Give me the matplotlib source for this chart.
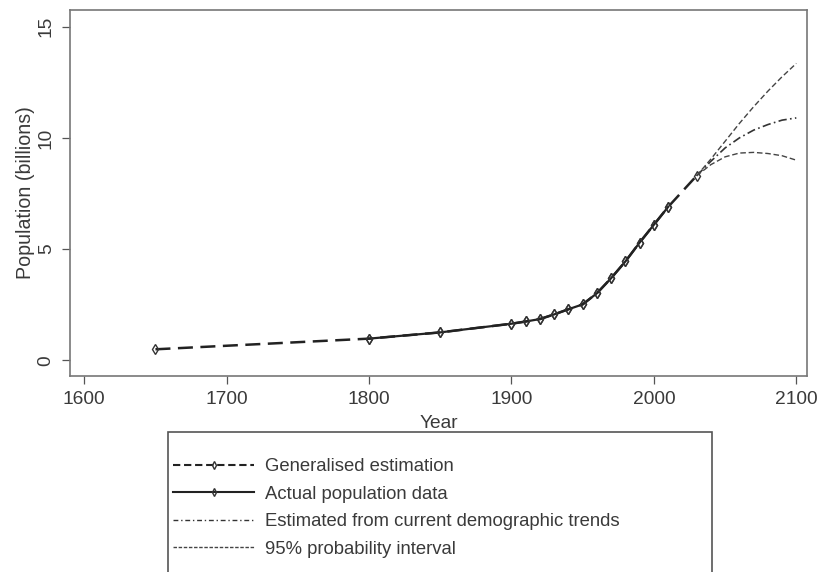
import matplotlib.pyplot as plt
from matplotlib.lines import Line2D
from matplotlib.patches import Rectangle

plt.rcParams['font.family'] = ['Liberation Sans', 'DejaVu Sans']

# Generalised estimation (dashed, with markers)
est_years = [1650, 1800, 1850, 1900, 1910, 1920, 1930, 1940, 1950, 1960,
             1970, 1980, 1990, 2000, 2010, 2030]
est_pop = [0.5, 0.98, 1.26, 1.65, 1.75, 1.86, 2.07, 2.3, 2.52, 3.02,
           3.7, 4.45, 5.3, 6.1, 6.9, 8.3]

# Actual population data (solid, with markers)
act_years = [1800, 1850, 1900, 1910, 1920, 1930, 1940, 1950, 1960, 1970,
             1980, 1990, 2000, 2010]
act_pop = [0.98, 1.26, 1.65, 1.75, 1.86, 2.07, 2.3, 2.52, 3.02, 3.7,
           4.45, 5.3, 6.1, 6.9]

# Projections
proj_years = [2030, 2040, 2050, 2060, 2070, 2080, 2090, 2100]
proj_mid = [8.3, 8.95, 9.55, 10.0, 10.35, 10.6, 10.8, 10.9]
proj_hi = [8.3, 9.05, 9.85, 10.65, 11.4, 12.1, 12.75, 13.35]
proj_lo = [8.3, 8.8, 9.15, 9.32, 9.35, 9.3, 9.2, 9.0]

xticks = [1600, 1700, 1800, 1900, 2000, 2100]
yticks = [0, 5, 10, 15]

txt = '#3a3a3a'
fs = 13.8
fig = plt.figure(figsize=(8.21, 5.72), dpi=100)
ax = fig.add_axes([70 / 821, 1 - 376 / 572, 737 / 821, 366 / 572])

mk = dict(marker='d', markersize=5.5, markerfacecolor='none',
          markeredgecolor='#333333', markeredgewidth=1.0)
ax.plot(act_years, act_pop, color='#222222', lw=1.6, **mk)
ax.plot(est_years, est_pop, color='#222222', lw=1.8, ls=(0, (6, 3)), **mk)
ax.plot(proj_years, proj_mid, color='#333333', lw=1.2, ls=(0, (5, 2, 1, 2)))
ax.plot(proj_years, proj_hi, color='#444444', lw=1.0, ls=(0, (4, 2)))
ax.plot(proj_years, proj_lo, color='#444444', lw=1.0, ls=(0, (4, 2)))

ax.set_xlim(1590, 2107.5)
ax.set_ylim(-0.7, 15.75)
ax.set_xticks(xticks)
ax.set_yticks(yticks)
ax.tick_params(axis='both', colors='#555555', labelcolor=txt, labelsize=fs,
               length=6, width=0.9, pad=5)
for lab in ax.get_yticklabels():
    lab.set_rotation(90)
    lab.set_va('center')
for sp in ax.spines.values():
    sp.set_color('#777777')
    sp.set_linewidth(1.2)
ax.set_xlabel('Year', fontsize=fs, color=txt, labelpad=5)
ax.set_ylabel('Population (billions)', fontsize=fs + 0.3, color=txt, labelpad=2)

# legend box, cut off at the bottom like the source
fig.patches.append(Rectangle((168 / 821, -0.05), (712 - 168) / 821,
                             0.05 + 1 - 432 / 572, transform=fig.transFigure,
                             fill=False, edgecolor='#555555', lw=1.2))

handles = [
    Line2D([], [], color='#222222', lw=1.5, ls=(0, (3.5, 1.8)), **mk),
    Line2D([], [], color='#222222', lw=1.5, **mk),
    Line2D([], [], color='#333333', lw=1.0, ls=(0, (3.5, 2, 1, 2))),
    Line2D([], [], color='#444444', lw=1.0, ls=(0, (2.5, 1.2))),
]
labels = ['Generalised estimation', 'Actual population data',
          'Estimated from current demographic trends',
          '95% probability interval']
leg = fig.legend(handles, labels, loc='upper left',
                 bbox_to_anchor=(173 / 821, 1 - 458 / 572),
                 fontsize=13.3, handlelength=4.4, handletextpad=0.6,
                 labelspacing=0.57, borderpad=0, borderaxespad=0,
                 frameon=False, labelcolor=txt, markerscale=0.7)

fig.savefig('out.png', dpi=100)
